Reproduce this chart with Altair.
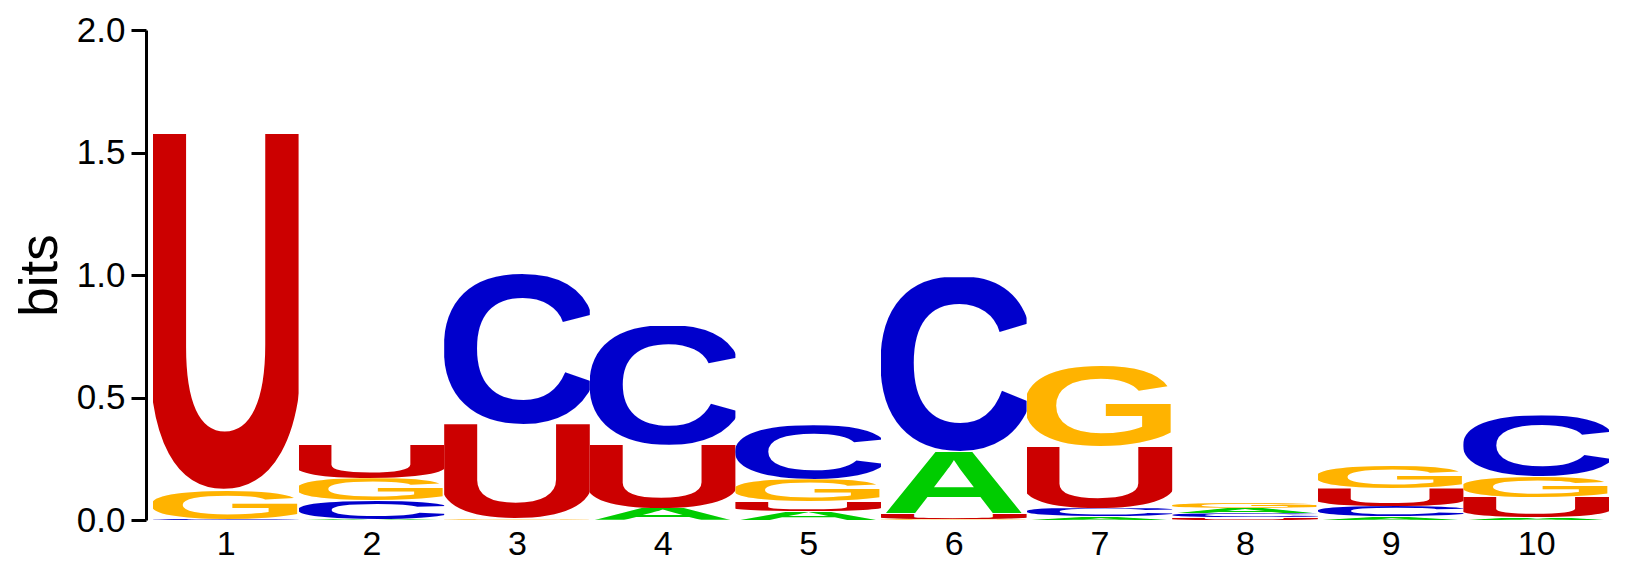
import base64

import altair as alt
import pandas as pd

# Sequence logo: information content (bits) of each base at each position
positions = [1, 2, 3, 4, 5, 6, 7, 8, 9, 10]
letters = ["A", "C", "G", "U"]
bits_A = [0.000, 0.004, 0.001, 0.048, 0.034, 0.252, 0.014, 0.022, 0.014, 0.010]
bits_C = [0.004, 0.075, 0.618, 0.486, 0.221, 0.712, 0.034, 0.018, 0.043, 0.248]
bits_G = [0.118, 0.091, 0.003, 0.001, 0.091, 0.003, 0.333, 0.024, 0.095, 0.086]
bits_U = [1.454, 0.136, 0.387, 0.258, 0.041, 0.024, 0.254, 0.010, 0.072, 0.084]
y_ticks = [0.0, 0.5, 1.0, 1.5, 2.0]

letter_colors = {"A": "#00CC00", "C": "#0000CC", "G": "#FFB300", "U": "#CC0000"}

# tight glyph boxes of Liberation Sans Bold (font units): xMin, yMin, xMax, yMax
glyph_box = {
    "A": (0, 0, 1479, 1409),
    "C": (88, -25, 1384, 1432),
    "G": (100, -25, 1480, 1432),
    "U": (150, -25, 1329, 1409),
}


def glyph_url(letter):
    """SVG letter that stretches to whatever box it is drawn in."""
    x0, y0, x1, y1 = glyph_box[letter]
    w, h = x1 - x0, y1 - y0
    svg = (
        f'<svg xmlns="http://www.w3.org/2000/svg" width="{w}" height="{h}" '
        f'viewBox="{x0} {-y1} {w} {h}" preserveAspectRatio="none">'
        f'<text x="0" y="0" font-family="Liberation Sans, Arial, sans-serif" '
        f'font-weight="bold" font-size="2048" fill="{letter_colors[letter]}">{letter}</text></svg>'
    )
    return "data:image/svg+xml;base64," + base64.b64encode(svg.encode()).decode()


# Stack letters per position, smallest at the bottom
bits = {"A": bits_A, "C": bits_C, "G": bits_G, "U": bits_U}
rows = []
for i, pos in enumerate(positions):
    stack = sorted(((bits[l][i], l) for l in letters), key=lambda t: t[0])
    base = 0.0
    for h, l in stack:
        if h > 0:
            rows.append(
                {"pos": pos, "letter": l, "x0": pos - 0.5, "x1": pos + 0.5,
                 "y0": base, "y1": base + h, "url": glyph_url(l)}
            )
        base += h
df = pd.DataFrame(rows)

font = "Liberation Sans"

logo = (
    alt.Chart(df)
    .mark_image(aspect=False)
    .encode(
        alt.X("x0:Q")
        .scale(domain=[0.452, 10.5], nice=False, zero=False)
        .axis(values=positions, format="d", ticks=False, domain=False, grid=False,
              labelFontSize=34, labelPadding=7, labelFlush=False, title=None),
        alt.X2("x1:Q"),
        alt.Y("y0:Q")
        .scale(domain=[0, 2], nice=False)
        .axis(values=y_ticks, format=".1f", grid=False, labelFontSize=35,
              labelPadding=6, labelFlush=False, tickSize=15, tickWidth=3,
              domainWidth=3, title="bits", titleFontSize=53, titleFontWeight="normal",
              titleAngle=-90, titleX=-90, titleY=245, titleAlign="center",
              titleBaseline="alphabetic"),
        alt.Y2("y1:Q"),
        url="url:N",
    )
    .properties(
        width=1463,
        height=490,
        autosize=alt.AutoSizeParams(type="none"),
        padding={"left": 138, "top": 22, "right": 10, "bottom": 45},
    )
    .configure_view(stroke=None)
    .configure_axis(
        labelFont=font, titleFont=font, labelColor="black", titleColor="black",
        domainColor="black", tickColor="black",
    )
)

logo.save("out.html", embed_options={"renderer": "svg", "actions": False})
